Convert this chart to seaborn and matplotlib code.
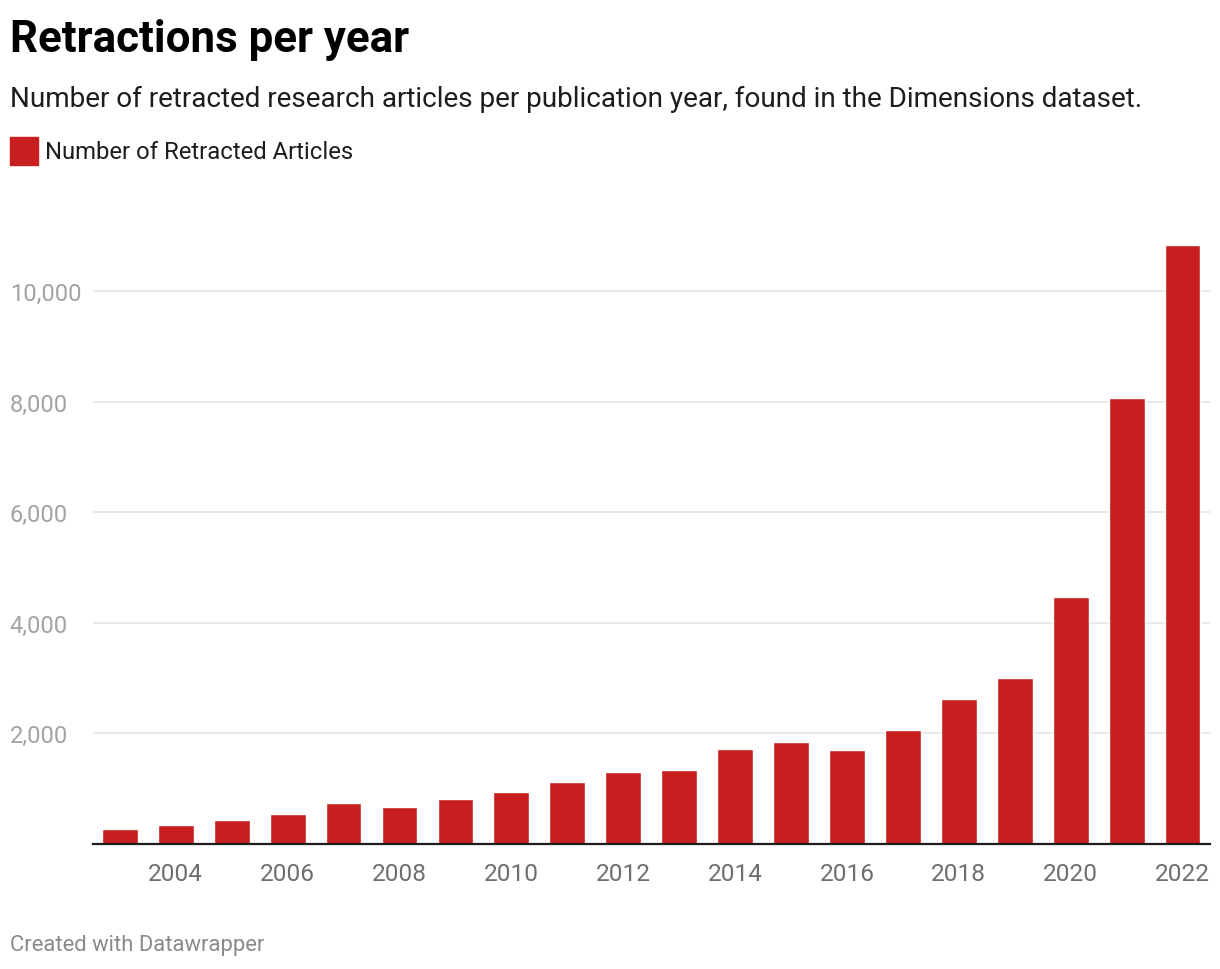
import pandas as pd
import seaborn as sns
import matplotlib.pyplot as plt

years = list(range(2003, 2023))
retracted = [271, 344, 434, 542, 741, 669, 814, 940, 1121, 1302,
             1338, 1718, 1845, 1700, 2061, 2622, 3002, 4467, 8065, 10832]
label_years = [str(y) for y in range(2004, 2023, 2)]
y_ticks = [2000, 4000, 6000, 8000, 10000]

df = pd.DataFrame({"Year": [str(y) for y in years],
                   "Number of Retracted Articles": retracted})

sns.set_theme(style="white")
plt.rcParams['font.family'] = ['Roboto', 'DejaVu Sans']

red = "#c91e1f"
fig = plt.figure(figsize=(12.2, 9.7), dpi=100)
ax = fig.add_axes([0.0762, 0.1289, 0.9156, 0.6268])

sns.barplot(data=df, x="Year", y="Number of Retracted Articles",
            color=red, width=0.64, saturation=1, ax=ax, zorder=3)

ax.set_xlim(-0.48, len(years) - 0.51)
ax.set_ylim(0, 11000)
ax.set_xlabel(None)
ax.set_ylabel(None)

# y axis: gridlines + left-aligned labels at the figure edge
ax.set_yticks(y_ticks)
ax.set_yticklabels([f"{v:,}" for v in y_ticks])
ax.tick_params(axis='y', length=0, pad=59.8, labelsize=17.1, labelcolor="#a3a3a3")
for lab in ax.get_yticklabels():
    lab.set_ha('left')
ax.grid(axis='y', color="#e3e3e3", linewidth=1.1, zorder=0)
ax.grid(axis='x', visible=False)

# x axis: every other year
pos = [years.index(int(y)) for y in label_years]
ax.set_xticks(pos)
ax.set_xticklabels(label_years)
ax.tick_params(axis='x', length=0, pad=13, labelsize=17.6, labelcolor="#6e6e6e")

for s in ["top", "right", "left"]:
    ax.spines[s].set_visible(False)
ax.spines["bottom"].set_color("#1d1d1d")
ax.spines["bottom"].set_linewidth(1.6)
ax.spines["bottom"].set_zorder(5)

# header
fig.text(10/1220, 1 - 52/970, "Retractions per year", fontsize=31.6,
         fontweight="bold", color="#000000", va="baseline")
fig.text(10/1220, 1 - 107/970,
         "Number of retracted research articles per publication year, found in the Dimensions dataset.",
         fontsize=20.05, color="#1d1d1d", va="baseline")
fig.patches.append(plt.Rectangle((10/1220, 1 - 166/970), 28/1220, 28/970,
                                 transform=fig.transFigure, color=red))
fig.text(45/1220, 1 - 159/970, "Number of Retracted Articles", fontsize=17.2,
         color="#1d1d1d", va="baseline")

fig.text(10/1220, 1 - 951/970, "Created with Datawrapper", fontsize=15.8,
         color="#8a8a8a", va="baseline")

fig.savefig("out.png", dpi=100, facecolor="white")
